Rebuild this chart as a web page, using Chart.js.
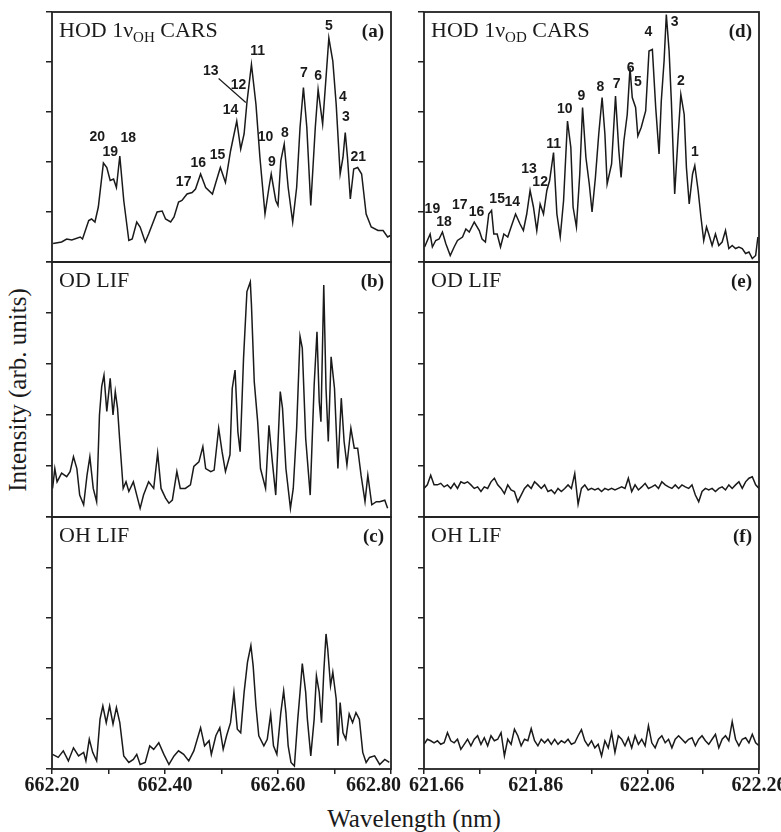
<!DOCTYPE html>
<html>
<head>
<meta charset="utf-8">
<script src="https://cdn.jsdelivr.net/npm/chart.js@4.4.0/dist/chart.umd.min.js"></script>
<style>
  html, body { margin: 0; padding: 0; background: #fff; overflow: hidden; width: 781px; height: 832px; }
  #fig { position: relative; width: 781px; height: 832px; }
  #fig canvas { position: absolute; }
  .axis-title { position: absolute; font-family: "Liberation Serif", "Times New Roman", serif; font-size: 25px; color: #1a1a1a; white-space: nowrap; }
  #ytitle { left: 18px; top: 390px; transform: translate(-50%, -50%) rotate(-90deg); }
  #xtitle { left: 414px; top: 819px; transform: translate(-50%, -50%); }
</style>
</head>
<body>
<div id="fig">
  <div id="ytitle" class="axis-title">Intensity (arb. units)</div>
  <div id="xtitle" class="axis-title">Wavelength (nm)</div>
</div>
<script>
// ---- data ----
// left column: HOD excited around 662 nm (1 nu_OH band)
const waveA = [662.202, 662.217, 662.226, 662.235, 662.250, 662.254, 662.265, 662.270, 662.276, 662.282,
  662.291, 662.297, 662.303, 662.309, 662.314, 662.320, 662.327, 662.336, 662.342, 662.350,
  662.356, 662.365, 662.371, 662.386, 662.395, 662.401, 662.410, 662.416, 662.424, 662.430,
  662.439, 662.448, 662.454, 662.463, 662.472, 662.484, 662.490, 662.498, 662.507, 662.516,
  662.527, 662.534, 662.540, 662.545, 662.553, 662.561, 662.568, 662.577, 662.584, 662.588,
  662.596, 662.600, 662.605, 662.611, 662.618, 662.626, 662.633, 662.639, 662.645, 662.651,
  662.658, 662.666, 662.671, 662.679, 662.685, 662.690, 662.697, 662.703, 662.710, 662.715,
  662.719, 662.723, 662.728, 662.734, 662.741, 662.748, 662.756, 662.765, 662.777, 662.786,
  662.794, 662.799];
const carsOH = [0.37, 0.40, 0.46, 0.44, 0.50, 0.46, 0.83, 0.86, 0.80, 1.10,
  1.98, 1.89, 1.63, 1.66, 1.49, 2.12, 1.23, 0.43, 0.46, 0.80,
  0.70, 0.40, 0.56, 1.00, 1.02, 0.86, 0.80, 0.90, 1.20, 1.23,
  1.36, 1.39, 1.46, 1.76, 1.49, 1.36, 1.59, 1.89, 1.59, 2.22,
  2.82, 2.26, 2.56, 3.19, 3.95, 3.15, 2.09, 0.96, 1.49, 1.76,
  1.23, 1.13, 2.03, 2.36, 1.49, 0.80, 1.49, 2.69, 3.49, 2.69,
  1.13, 2.69, 3.45, 2.76, 3.69, 4.48, 4.02, 3.15, 1.76, 2.09,
  2.59, 2.09, 1.26, 1.86, 1.89, 1.76, 0.96, 0.70, 0.63, 0.63,
  0.50, 0.53];

const waveB = [662.201, 662.205, 662.209, 662.217, 662.226, 662.232, 662.238, 662.244, 662.249, 662.256,
  662.262, 662.267, 662.273, 662.279, 662.284, 662.288, 662.292, 662.297, 662.303, 662.308,
  662.312, 662.316, 662.320, 662.326, 662.331, 662.336, 662.344, 662.350, 662.356, 662.362,
  662.371, 662.380, 662.387, 662.393, 662.401, 662.407, 662.413, 662.421, 662.427, 662.436,
  662.445, 662.451, 662.460, 662.467, 662.472, 662.481, 662.487, 662.495, 662.501, 662.507,
  662.515, 662.519, 662.524, 662.529, 662.533, 662.539, 662.545, 662.551, 662.553, 662.558,
  662.564, 662.569, 662.578, 662.584, 662.590, 662.596, 662.604, 662.608, 662.614, 662.622,
  662.627, 662.633, 662.639, 662.643, 662.649, 662.657, 662.664, 662.669, 662.673, 662.676,
  662.681, 662.685, 662.689, 662.694, 662.700, 662.706, 662.712, 662.717, 662.722, 662.729,
  662.735, 662.741, 662.747, 662.754, 662.759, 662.766, 662.774, 662.780, 662.789, 662.794];
const lifOD_OH = [0.56, 0.95, 0.69, 0.86, 0.79, 0.89, 1.18, 0.95, 0.43, 0.24,
  0.82, 1.18, 0.56, 0.30, 2.00, 2.56, 2.78, 2.07, 2.72, 2.00,
  2.46, 2.13, 1.48, 0.56, 0.69, 0.50, 0.69, 0.43, 0.17, 0.43,
  0.69, 0.56, 1.25, 0.56, 0.37, 0.27, 0.33, 0.89, 0.56, 0.56,
  0.63, 0.99, 1.08, 1.38, 0.95, 0.89, 0.92, 1.74, 1.28, 0.89,
  1.22, 2.52, 2.88, 1.67, 1.28, 3.11, 4.42, 4.61, 4.16, 2.65,
  1.87, 0.95, 0.56, 1.80, 1.08, 0.43, 2.46, 2.13, 0.95, 0.17,
  0.56, 1.74, 3.54, 3.31, 1.54, 0.43, 2.59, 3.63, 2.26, 1.87,
  4.55, 2.52, 1.48, 3.14, 2.52, 0.95, 2.33, 1.48, 1.02, 1.74,
  1.35, 1.35, 0.82, 0.30, 0.82, 0.24, 0.30, 0.30, 0.33, 0.17];

const waveC = [662.201, 662.211, 662.220, 662.229, 662.238, 662.247, 662.256, 662.260, 662.266, 662.272,
  662.279, 662.285, 662.290, 662.296, 662.302, 662.308, 662.314, 662.320, 662.327, 662.336,
  662.344, 662.350, 662.356, 662.365, 662.373, 662.380, 662.389, 662.398, 662.407, 662.416,
  662.424, 662.433, 662.442, 662.451, 662.463, 662.470, 662.478, 662.482, 662.490, 662.497,
  662.503, 662.509, 662.516, 662.522, 662.528, 662.534, 662.540, 662.546, 662.552, 662.556,
  662.561, 662.566, 662.575, 662.581, 662.587, 662.592, 662.598, 662.605, 662.610, 662.614,
  662.618, 662.623, 662.629, 662.635, 662.639, 662.643, 662.649, 662.652, 662.658, 662.664,
  662.668, 662.673, 662.677, 662.681, 662.685, 662.688, 662.693, 662.697, 662.703, 662.706,
  662.710, 662.715, 662.720, 662.726, 662.732, 662.738, 662.744, 662.750, 662.756, 662.762,
  662.771, 662.780, 662.789, 662.797];
const lifOH_OH = [0.29, 0.23, 0.36, 0.16, 0.42, 0.26, 0.33, 0.16, 0.59, 0.33,
  0.16, 0.99, 1.25, 0.92, 1.25, 0.89, 1.22, 0.92, 0.26, 0.13,
  0.19, 0.29, 0.09, 0.13, 0.46, 0.39, 0.52, 0.29, 0.09, 0.26,
  0.36, 0.29, 0.16, 0.36, 0.82, 0.46, 0.56, 0.29, 0.66, 0.82,
  0.39, 0.66, 0.92, 1.52, 0.79, 0.72, 1.52, 2.12, 2.45, 2.05,
  1.25, 0.66, 0.46, 0.59, 1.09, 0.46, 0.29, 1.12, 1.55, 1.12,
  0.46, 0.13, 0.06, 0.99, 1.52, 2.09, 1.52, 0.99, 0.26, 0.99,
  1.85, 1.52, 0.92, 1.92, 2.68, 2.38, 1.65, 1.92, 1.39, 0.46,
  1.32, 0.72, 0.59, 1.09, 0.92, 1.12, 0.99, 0.33, 0.13, 0.23,
  0.26, 0.09, 0.19, 0.13];

// right column: HOD excited around 622 nm (1 nu_OD band)
const waveD = [621.661, 621.666, 621.671, 621.675, 621.681, 621.687, 621.693, 621.699, 621.707, 621.714,
  621.720, 621.729, 621.735, 621.741, 621.750, 621.759, 621.764, 621.770, 621.776, 621.781,
  621.785, 621.791, 621.797, 621.803, 621.810, 621.816, 621.824, 621.832, 621.838, 621.844,
  621.850, 621.856, 621.862, 621.868, 621.874, 621.880, 621.885, 621.892, 621.898, 621.904,
  621.910, 621.917, 621.923, 621.927, 621.933, 621.939, 621.944, 621.950, 621.956, 621.961,
  621.967, 621.973, 621.979, 621.984, 621.988, 621.996, 622.003, 622.009, 622.013, 622.018,
  622.024, 622.029, 622.033, 622.039, 622.043, 622.049, 622.057, 622.063, 622.069, 622.075,
  622.081, 622.085, 622.090, 622.094, 622.099, 622.103, 622.109, 622.115, 622.120, 622.126,
  622.130, 622.135, 622.141, 622.145, 622.151, 622.156, 622.161, 622.166, 622.170, 622.176,
  622.182, 622.188, 622.194, 622.200, 622.206, 622.212, 622.218, 622.224, 622.230, 622.236,
  622.242, 622.248, 622.254, 622.258];
const carsOD = [0.30, 0.43, 0.56, 0.30, 0.43, 0.46, 0.60, 0.37, 0.13, 0.30,
  0.43, 0.50, 0.66, 0.60, 0.80, 0.63, 0.46, 0.40, 0.96, 1.03,
  0.56, 0.56, 0.30, 0.56, 0.50, 0.70, 0.96, 0.76, 0.63, 0.96,
  1.43, 1.10, 0.63, 1.16, 0.96, 1.43, 1.63, 2.19, 0.96, 0.50,
  1.23, 2.82, 2.29, 1.10, 0.70, 1.76, 3.09, 2.09, 1.56, 1.00,
  1.69, 2.56, 3.29, 2.56, 1.56, 1.96, 3.32, 2.22, 1.69, 2.42,
  2.95, 3.88, 3.29, 3.09, 2.52, 2.69, 3.02, 4.22, 4.25, 3.09,
  2.16, 3.22, 4.02, 4.95, 4.22, 3.22, 1.36, 2.49, 3.35, 2.95,
  1.89, 1.16, 1.76, 1.93, 1.43, 0.90, 0.43, 0.70, 0.56, 0.33,
  0.56, 0.33, 0.40, 0.63, 0.27, 0.33, 0.27, 0.30, 0.27, 0.17,
  0.20, 0.07, 0.13, 0.50];

const waveEF = [621.660, 621.666, 621.672, 621.678, 621.684, 621.690, 621.696, 621.702, 621.708, 621.714,
  621.720, 621.726, 621.732, 621.738, 621.744, 621.750, 621.756, 621.762, 621.768, 621.774,
  621.780, 621.786, 621.792, 621.798, 621.804, 621.810, 621.816, 621.822, 621.828, 621.834,
  621.840, 621.846, 621.852, 621.858, 621.864, 621.870, 621.876, 621.882, 621.888, 621.894,
  621.900, 621.906, 621.912, 621.918, 621.924, 621.930, 621.936, 621.942, 621.948, 621.954,
  621.960, 621.966, 621.972, 621.978, 621.984, 621.990, 621.996, 622.002, 622.008, 622.014,
  622.020, 622.026, 622.032, 622.038, 622.044, 622.050, 622.056, 622.062, 622.068, 622.074,
  622.080, 622.086, 622.092, 622.098, 622.104, 622.110, 622.116, 622.122, 622.128, 622.134,
  622.140, 622.146, 622.152, 622.158, 622.164, 622.170, 622.176, 622.182, 622.188, 622.194,
  622.200, 622.206, 622.212, 622.218, 622.224, 622.230, 622.236, 622.242, 622.248, 622.254,
  622.260];
const lifOD_OD = [0.56, 0.63, 0.82, 0.63, 0.63, 0.66, 0.59, 0.63, 0.56, 0.66,
  0.56, 0.69, 0.66, 0.69, 0.63, 0.56, 0.59, 0.50, 0.59, 0.56,
  0.69, 0.76, 0.63, 0.56, 0.46, 0.63, 0.53, 0.50, 0.30, 0.43,
  0.56, 0.63, 0.56, 0.69, 0.63, 0.56, 0.63, 0.50, 0.53, 0.46,
  0.56, 0.50, 0.56, 0.63, 0.56, 0.85, 0.25, 0.56, 0.63, 0.53,
  0.56, 0.53, 0.56, 0.50, 0.56, 0.53, 0.56, 0.53, 0.56, 0.59,
  0.56, 0.76, 0.50, 0.63, 0.53, 0.59, 0.66, 0.56, 0.59, 0.63,
  0.56, 0.69, 0.63, 0.59, 0.56, 0.63, 0.56, 0.63, 0.59, 0.56,
  0.63, 0.43, 0.30, 0.50, 0.56, 0.53, 0.56, 0.50, 0.56, 0.59,
  0.53, 0.63, 0.56, 0.63, 0.69, 0.56, 0.69, 0.76, 0.79, 0.63,
  0.56];
const lifOH_OD = [0.49, 0.59, 0.56, 0.52, 0.56, 0.49, 0.52, 0.72, 0.56, 0.52,
  0.59, 0.39, 0.49, 0.59, 0.46, 0.59, 0.66, 0.49, 0.62, 0.46,
  0.66, 0.56, 0.59, 0.72, 0.26, 0.59, 0.49, 0.79, 0.66, 0.46,
  0.59, 0.56, 0.80, 0.56, 0.46, 0.59, 0.52, 0.59, 0.49, 0.59,
  0.49, 0.56, 0.52, 0.59, 0.49, 0.52, 0.66, 0.78, 0.56, 0.46,
  0.56, 0.42, 0.49, 0.26, 0.56, 0.42, 0.72, 0.33, 0.66, 0.59,
  0.46, 0.62, 0.42, 0.66, 0.49, 0.59, 0.46, 0.86, 0.52, 0.42,
  0.59, 0.66, 0.52, 0.59, 0.42, 0.59, 0.66, 0.59, 0.52, 0.59,
  0.62, 0.46, 0.59, 0.66, 0.56, 0.49, 0.59, 0.69, 0.42, 0.59,
  0.66, 0.56, 0.94, 0.59, 0.46, 0.59, 0.62, 0.52, 0.69, 0.52,
  0.46];

// rotational line assignments (number, wavelength, height)
const peaksA = ['20', '19', '18', '17', '16', '15', '14', '13', '12', '11', '10', '9', '8', '7', '6', '5', '4', '3', '21'];
const peaksAx = [662.280, 662.303, 662.335, 662.433, 662.459, 662.493, 662.516, 662.481, 662.530, 662.564,
  662.578, 662.589, 662.612, 662.646, 662.671, 662.690, 662.715, 662.720, 662.742];
const peaksAy = [2.49, 2.19, 2.47, 1.59, 1.97, 2.13, 3.03, 3.82, 3.53, 4.22, 2.49, 1.99, 2.57, 3.78, 3.71, 4.72, 3.29, 2.89, 2.09];
const leaderA = { x: [662.495, 662.543], y: [3.67, 3.19] };

const peaksD = ['19', '18', '17', '16', '15', '14', '13', '12', '11', '10', '9', '8', '7', '6', '5', '4', '3', '2', '1'];
const peaksDx = [621.675, 621.696, 621.724, 621.754, 621.791, 621.818, 621.848, 621.868, 621.892, 621.912,
  621.942, 621.976, 622.005, 622.030, 622.043, 622.062, 622.109, 622.120, 622.145];
const peaksDy = [1.06, 0.80, 1.13, 1.00, 1.26, 1.20, 1.86, 1.59, 2.36, 3.05, 3.32, 3.49, 3.55, 3.88, 3.59, 4.60, 4.80, 3.62, 2.19];

const xTicksLeft = [662.2, 662.3, 662.4, 662.5, 662.6, 662.7, 662.8];
const xLabelsLeft = ['662.20', '', '662.40', '', '662.60', '', '662.80'];
const xTicksRight = [621.66, 621.76, 621.86, 621.96, 622.06, 622.16, 622.26];
const xLabelsRight = ['621.66', '', '621.86', '', '622.06', '', '622.26'];
const yTicks = [0, 1, 2, 3, 4, 5];

// ---- layout ----
const SERIF = '"Liberation Serif", "Times New Roman", serif';
const SANS = '"Liberation Sans", Arial, sans-serif';
const INK = '#1a1a1a';
const COLS = [{ left: 52, right: 391 }, { left: 424, right: 759 }];
const ROWS = [{ top: 12, bottom: 262 }, { top: 262, bottom: 517 }, { top: 517, bottom: 769 }];
const M = { left: 52, top: 12, right: 70 };

const panelPlugin = {
  id: 'panelText',
  afterDatasetsDraw(chart, args, opts) {
    const { ctx, chartArea: a, scales: { x, y } } = chart;
    ctx.save();
    ctx.fillStyle = INK;
    const base = a.top + 25;
    let cx = a.left + 7;
    ctx.textAlign = 'left';
    ctx.textBaseline = 'alphabetic';
    opts.title.forEach(part => {
      ctx.font = part.sub ? `15px ${SERIF}` : `22px ${SERIF}`;
      ctx.fillText(part.text, cx, part.sub ? base + 5 : base);
      cx += ctx.measureText(part.text).width;
    });
    ctx.font = `bold 19px ${SERIF}`;
    ctx.textAlign = 'right';
    ctx.fillText(opts.tag, a.right - 7, base);

    if (opts.peaks) {
      ctx.font = `bold 14px ${SANS}`;
      ctx.textAlign = 'center';
      ctx.textBaseline = 'middle';
      opts.peaks.labels.forEach((t, i) => {
        ctx.fillText(t, x.getPixelForValue(opts.peaks.x[i]), y.getPixelForValue(opts.peaks.y[i]));
      });
    }
    if (opts.leader) {
      ctx.strokeStyle = INK;
      ctx.lineWidth = 1.2;
      ctx.beginPath();
      ctx.moveTo(x.getPixelForValue(opts.leader.x[0]), y.getPixelForValue(opts.leader.y[0]));
      ctx.lineTo(x.getPixelForValue(opts.leader.x[1]), y.getPixelForValue(opts.leader.y[1]));
      ctx.stroke();
    }
    ctx.restore();
  },
  afterDraw(chart) {
    const { ctx, chartArea: a } = chart;
    ctx.save();
    ctx.strokeStyle = '#222';
    ctx.lineWidth = 1.8;
    ctx.strokeRect(a.left, a.top, a.right - a.left, a.bottom - a.top);
    ctx.restore();
  }
};

function buildPanel(p) {
  const col = COLS[p.col], row = ROWS[p.row];
  const isBottom = p.row === 2;
  const mb = isBottom ? 42 : 12;
  const w = col.right - col.left + M.left + M.right;
  const h = row.bottom - row.top + M.top + mb;
  const canvas = document.createElement('canvas');
  canvas.width = w;
  canvas.height = h;
  canvas.style.width = w + 'px';
  canvas.style.height = h + 'px';
  canvas.style.left = (col.left - M.left) + 'px';
  canvas.style.top = (row.top - M.top) + 'px';
  document.getElementById('fig').appendChild(canvas);

  const xTicks = p.col === 0 ? xTicksLeft : xTicksRight;
  const xLabels = p.col === 0 ? xLabelsLeft : xLabelsRight;
  // the two labels at the column gap are nudged apart, as in the figure
  const tickLabel = (v, i) => {
    const t = xLabels[i];
    if (p.col === 0 && i === xLabels.length - 1) return t + '       ';
    if (p.col === 1 && i === 0) return '     ' + t;
    return t;
  };

  return new Chart(canvas, {
    type: 'line',
    data: {
      datasets: [{
        data: p.wave.map((v, i) => ({ x: v, y: p.values[i] })),
        borderColor: INK,
        borderWidth: 1.5,
        pointRadius: 0,
        tension: 0,
        fill: false
      }]
    },
    options: {
      responsive: false,
      animation: false,
      devicePixelRatio: 1,
      layout: { padding: { left: M.left - 6, top: M.top, right: M.right, bottom: isBottom ? mb - 30 : mb } },
      plugins: {
        legend: { display: false },
        tooltip: { enabled: false },
        panelText: { title: p.title, tag: p.tag, peaks: p.peaks || null, leader: p.leader || null }
      },
      scales: {
        x: {
          type: 'linear',
          min: xTicks[0],
          max: xTicks[xTicks.length - 1],
          display: isBottom,
          afterBuildTicks: s => { s.ticks = xTicks.map(value => ({ value })); },
          afterFit: s => { if (isBottom) s.height = 30; },
          grid: { drawOnChartArea: false, drawTicks: true, tickLength: 5, color: '#222', lineWidth: 1.5 },
          border: { display: false },
          ticks: {
            autoSkip: false, maxRotation: 0, minRotation: 0, padding: 0, color: INK,
            font: { family: SERIF, size: 20, weight: 'bold' },
            callback: tickLabel
          }
        },
        y: {
          type: 'linear',
          min: 0,
          max: 5,
          afterBuildTicks: s => { s.ticks = yTicks.map(value => ({ value })); },
          afterFit: s => { s.width = 6; },
          grid: { drawOnChartArea: false, drawTicks: true, tickLength: 6, color: '#222', lineWidth: 1.5 },
          border: { display: false },
          ticks: { display: false }
        }
      }
    },
    plugins: [panelPlugin]
  });
}

buildPanel({ col: 0, row: 0, wave: waveA, values: carsOH, tag: '(a)',
  title: [{ text: 'HOD 1\u03BD' }, { text: 'OH', sub: true }, { text: ' CARS' }],
  peaks: { labels: peaksA, x: peaksAx, y: peaksAy }, leader: leaderA });
buildPanel({ col: 0, row: 1, wave: waveB, values: lifOD_OH, tag: '(b)', title: [{ text: 'OD LIF' }] });
buildPanel({ col: 0, row: 2, wave: waveC, values: lifOH_OH, tag: '(c)', title: [{ text: 'OH LIF' }] });
buildPanel({ col: 1, row: 0, wave: waveD, values: carsOD, tag: '(d)',
  title: [{ text: 'HOD 1\u03BD' }, { text: 'OD', sub: true }, { text: ' CARS' }],
  peaks: { labels: peaksD, x: peaksDx, y: peaksDy } });
buildPanel({ col: 1, row: 1, wave: waveEF, values: lifOD_OD, tag: '(e)', title: [{ text: 'OD LIF' }] });
buildPanel({ col: 1, row: 2, wave: waveEF, values: lifOH_OD, tag: '(f)', title: [{ text: 'OH LIF' }] });
</script>
</body>
</html>
